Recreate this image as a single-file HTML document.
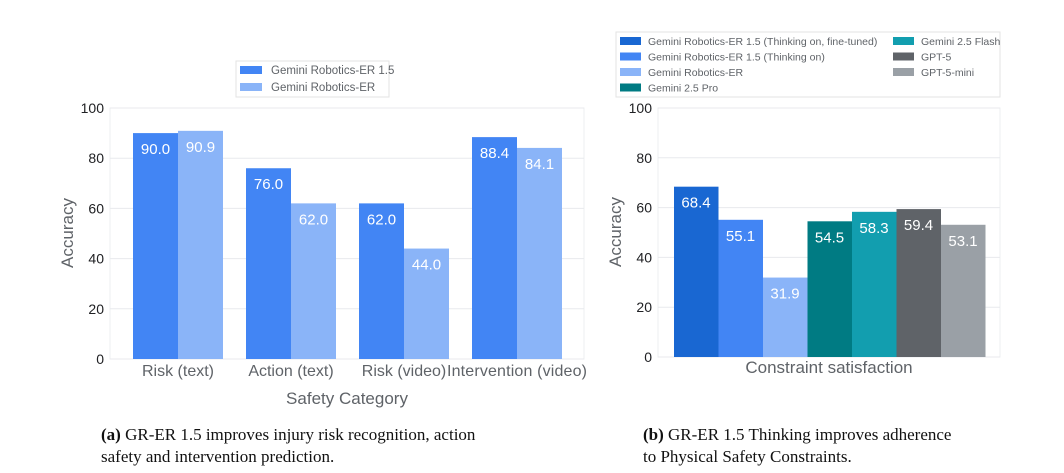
<!DOCTYPE html>
<html><head><meta charset="utf-8"><style>
body{margin:0;background:#fff;width:1064px;height:473px;overflow:hidden}
text{font-family:"Liberation Sans",sans-serif}
.cap{position:absolute;font-family:"Liberation Serif",serif;font-size:17px;color:#111;line-height:22px}
</style></head><body>
<svg id="s" width="1064" height="473" style="position:absolute;left:0;top:0"></svg>
<div class="cap" style="left:101px;top:424px;width:415px"><b>(a)</b> GR-ER 1.5 improves injury risk recognition, action safety and intervention prediction.</div>
<div class="cap" style="left:643px;top:424px;width:320px"><b>(b)</b> GR-ER 1.5 Thinking improves adherence to Physical Safety Constraints.</div>
<script>
const catsA=["Risk (text)","Action (text)","Risk (video)","Intervention (video)"];
const erA15=[90.0,76.0,62.0,88.4];
const erA=[90.9,62.0,44.0,84.1];
const seriesB=["Gemini Robotics-ER 1.5 (Thinking on, fine-tuned)","Gemini Robotics-ER 1.5 (Thinking on)","Gemini Robotics-ER","Gemini 2.5 Pro","Gemini 2.5 Flash","GPT-5","GPT-5-mini"];
const valsB=[68.4,55.1,31.9,54.5,58.3,59.4,53.1];
const ticks=[0,20,40,60,80,100];
const colB=["#1967d2","#4285f4","#8ab4f8","#007b83","#129eaf","#5f6368","#9aa0a6"];
const NS="http://www.w3.org/2000/svg",S=document.getElementById('s');
function el(t,a,txt){const e=document.createElementNS(NS,t);for(const k in a)e.setAttribute(k,a[k]);if(txt!=null)e.textContent=txt;S.appendChild(e);return e;}
function axes(x0,x1,yTop,yBot,name){
 const y=v=>yBot-(yBot-yTop)*v/100;
 el('rect',{x:x0,y:yTop,width:x1-x0,height:yBot-yTop,fill:'none',stroke:'#eceff1'});
 ticks.forEach(t=>{
  const l=el('line',{x1:x0,x2:x1,y1:y(t),y2:y(t),stroke:'#e8eaed'});
  
  
  const tx=el('text',{x:x0-6,y:y(t)+5,'text-anchor':'end','font-size':14,fill:'#202124'},t);
  
  
 });
 return y;
}
const yA=axes(110,584,108,359,'chart-a');
catsA.forEach((c,i)=>{
 const cx=178+i*113;
 [[erA15[i],'#4285f4',cx-45],[erA[i],'#8ab4f8',cx]].forEach(([v,col,x],j)=>{
  const r=el('rect',{x:x,y:yA(v),width:45,height:359-yA(v),fill:col});
  
  
  const t=el('text',{x:x+22.5,y:yA(v)+21,'text-anchor':'middle','font-size':15,fill:'#fff'},v.toFixed(1));
  
  
 });
 const t=el('text',{x:cx,y:376,'text-anchor':'middle','font-size':16,fill:'#5f6368',textLength:c.length>15?140:null});
 t.textContent=c;
 if(c.length<=15)t.removeAttribute('textLength');
 
 
});
el('text',{x:347,y:404,'text-anchor':'middle','font-size':17,fill:'#5f6368',},'Safety Category');
el('text',{x:0,y:0,transform:'translate(73,233) rotate(-90)','text-anchor':'middle','font-size':17,fill:'#5f6368',},'Accuracy');
el('rect',{x:236,y:61,width:153,height:36,fill:'#fff',stroke:'#e3e3e3',});
[["Gemini Robotics-ER 1.5","#4285f4"],["Gemini Robotics-ER","#8ab4f8"]].forEach(([n,c],i)=>{
 el('rect',{x:240,y:66+i*17,width:22,height:8,fill:c,});
 el('text',{x:271,y:74+i*17,'font-size':11.5,fill:'#5f6368',},n);
});
const yB=axes(658,1000,108,357,'chart-b');
valsB.forEach((v,i)=>{
 const x=674+i*44.5;
 const r=el('rect',{x:x,y:yB(v),width:44.5,height:357-yB(v),fill:colB[i]});
 
 
 const t=el('text',{x:x+22,y:yB(v)+21,'text-anchor':'middle','font-size':15,fill:'#fff'},v.toFixed(1));
 
 
});
el('text',{x:829,y:373,'text-anchor':'middle','font-size':17,fill:'#5f6368',},'Constraint satisfaction');
el('text',{x:0,y:0,transform:'translate(621,232) rotate(-90)','text-anchor':'middle','font-size':17,fill:'#5f6368',},'Accuracy');
el('rect',{x:616,y:32,width:384,height:65,fill:'#fff',stroke:'#e3e3e3',});
seriesB.forEach((n,i)=>{
 const col=i<4?0:1,row=i<4?i:i-4;
 const sx=col?893:620,ty=41+row*15.5;
 const sw=el('rect',{x:sx,y:ty-4,width:21,height:8,fill:colB[i]});
 
 
 const t=el('text',{x:sx+28,y:ty+4,'font-size':10.5,fill:'#5f6368'},n);
 
 
});
</script>
</body></html>
